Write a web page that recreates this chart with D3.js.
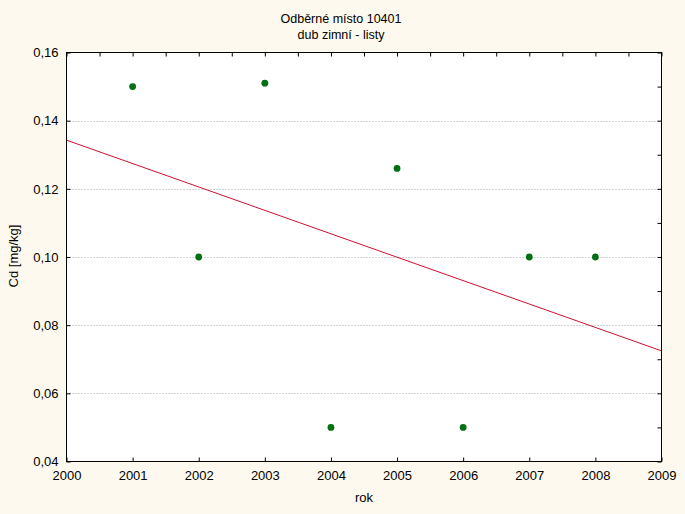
<!DOCTYPE html>
<html><head><meta charset="utf-8">
<script src="https://cdn.jsdelivr.net/npm/d3@7"></script>
<style>body{margin:0;background:#fdf9ee;}svg{display:block;font-family:"Liberation Sans",Arial,sans-serif;}</style>
</head><body>
<svg id="c" width="685" height="514"></svg>
<script>
const years = [2001, 2002, 2003, 2004, 2005, 2006, 2007, 2008];
const cdValues = [0.150, 0.100, 0.151, 0.050, 0.126, 0.050, 0.100, 0.100];
const xTicks = [2000, 2001, 2002, 2003, 2004, 2005, 2006, 2007, 2008, 2009];
const yTicks = [0.04, 0.06, 0.08, 0.10, 0.12, 0.14, 0.16];
const titleLines = ["Odběrné místo 10401", "dub zimní - listy"];

const svg = d3.select("#c");
const L = 66.5, R = 661.5, T = 52.5, B = 461.5;
svg.append("rect").attr("width",685).attr("height",514).attr("fill","#fdf9ee");
const x = d3.scaleLinear().domain([2000, 2009]).range([L, R]);
const y = d3.scaleLinear().domain([0.04, 0.16]).range([B, T]);
svg.append("rect").attr("x",L).attr("y",T).attr("width",R-L).attr("height",B-T).attr("fill","#fff");

const fmt = d => d3.format(".2f")(d).replace(".", ",");
// grid
svg.append("g").selectAll("line").data(yTicks.slice(1,-1)).join("line")
  .attr("x1",L).attr("x2",R).attr("y1",d=>Math.round(y(d))+0.5).attr("y2",d=>Math.round(y(d))+0.5)
  .attr("stroke","#a8a8a8").attr("stroke-dasharray","1,2").attr("stroke-width",1);

// regression
const mx = d3.mean(years), my = d3.mean(cdValues);
const slope = d3.sum(years.map((v,i)=>(v-mx)*(cdValues[i]-my))) / d3.sum(years.map(v=>(v-mx)*(v-mx)));
const fit = v => my + slope*(v-mx);
svg.append("line").attr("x1",x(2000)).attr("y1",y(fit(2000))).attr("x2",x(2009)).attr("y2",y(fit(2009)))
  .attr("stroke","#d01030").attr("stroke-width",1);

// axes
const tickStyle = g => { g.select(".domain").remove(); g.selectAll("line").attr("stroke","#000"); };
const axB = svg.append("g").attr("transform",`translate(0,${B})`)
  .call(d3.axisBottom(x).tickValues(xTicks).tickFormat(d3.format("d")).tickSizeInner(-4).tickSizeOuter(0).tickPadding(9));
axB.call(tickStyle);
axB.selectAll("text").attr("font-size",13).attr("fill","#000").attr("dy","0.71em");
const axL = svg.append("g").attr("transform",`translate(${L},0)`)
  .call(d3.axisLeft(y).tickValues(yTicks).tickFormat(fmt).tickSizeInner(-4).tickSizeOuter(0).tickPadding(8));
axL.call(tickStyle);
axL.selectAll("text").attr("font-size",13).attr("fill","#000");
const halfYears = d3.range(2000, 2009.01, 0.5);
svg.append("g").attr("transform",`translate(0,${T})`)
  .call(d3.axisTop(x).tickValues(halfYears).tickFormat("").tickSizeInner(-4).tickSizeOuter(0)).call(tickStyle);
const yMinor = d3.range(0.04, 0.1601, 0.01);
svg.append("g").attr("transform",`translate(${R},0)`)
  .call(d3.axisRight(y).tickValues(yMinor).tickFormat("").tickSizeInner(-4).tickSizeOuter(0)).call(tickStyle);
svg.append("rect").attr("x",L).attr("y",T).attr("width",R-L).attr("height",B-T).attr("fill","none").attr("stroke","#000");

// points
svg.append("g").selectAll("circle").data(years).join("circle")
  .attr("cx",d=>x(d)).attr("cy",(d,i)=>y(cdValues[i])).attr("r",3.4).attr("fill","#007010");

// titles
svg.append("g").selectAll("text").data(titleLines).join("text")
  .attr("x",341).attr("y",(d,i)=>23+i*16).attr("text-anchor","middle").attr("font-size",12.5).attr("fill","#000").text(d=>d);
svg.append("text").attr("x",364).attr("y",502).attr("text-anchor","middle").attr("font-size",13).text("rok");
svg.append("text").attr("transform","translate(18,256) rotate(-90)").attr("text-anchor","middle").attr("font-size",13).text("Cd [mg/kg]");
</script>
</body></html>
